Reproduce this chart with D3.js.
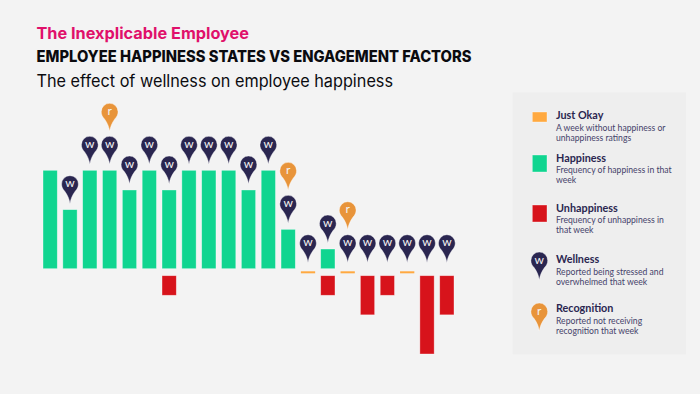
<!DOCTYPE html>
<html>
<head>
<meta charset="utf-8">
<script src="https://cdn.jsdelivr.net/npm/d3@7"></script>
<style>
  html, body { margin: 0; padding: 0; background: #f3f3f3; }
  svg { display: block; }
</style>
</head>
<body>
<script>
//chart data
var weeks = d3.range(1, 22);
var happiness =   [5,3,5,5,4,5,4,5,5,5,4,5,2,0,1,0,0,0,0,0,0];
var unhappiness = [0,0,0,0,0,0,1,0,0,0,0,0,0,0,1,0,2,1,0,4,2];
var wellness =    [0,1,1,1,1,1,1,1,1,1,1,1,1,1,1,1,1,1,1,1,1];
var recognition = [0,0,0,1,0,0,0,0,0,0,0,0,1,0,0,1,0,0,0,0,0];

//title lines
var titleLines = ["The Inexplicable Employee", "EMPLOYEE HAPPINESS STATES VS ENGAGEMENT FACTORS", "The effect of wellness on employee happiness"];

//legend text
var legendNames = ["Just Okay", "Happiness", "Unhappiness", "Wellness", "Recognition"];
var legendNotes = [
    ["A week without happiness or", "unhappiness ratings"],
    ["Frequency of happiness in that", "week"],
    ["Frequency of unhappiness in", "that week"],
    ["Reported being stressed and", "overwhelmed that week"],
    ["Reported not receiving", "recognition that week"]
];

var colors = {green: "#10d590", red: "#d7131b", okay: "#ffa940", navy: "#2a2650", orange: "#e8943a", pink: "#e0106a"};

const svg = d3.select("body")
    .append("svg")
    .attr("width", 700)
    .attr("height", 394);

svg.append("rect").attr("width", 700).attr("height", 394).attr("fill", "#f3f3f3");

//titles, stretched to the measured widths since Poppins isn't installed
var titleStyle = [
    {y: 38.7, size: 16, weight: 700, fill: colors.pink, len: 212.5},
    {y: 61.7, size: 15.5, weight: 800, fill: "#0b0b0f", len: 435},
    {y: 86.7, size: 17, weight: 400, fill: "#0b0b0f", len: 356.5}
];
titleLines.forEach(function(t, i) {
    var s = titleStyle[i];
    svg.append("text")
        .attr("x", 36.5)
        .attr("y", s.y)
        .attr("font-family", "Inter")
        .attr("font-size", s.size)
        .attr("font-weight", s.weight)
        .attr("fill", s.fill)
        .attr("textLength", s.len)
        .attr("lengthAdjust", "spacingAndGlyphs")
        .text(t);
});

//scales
var x = d3.scaleBand().domain(weeks).range([43, 454]).paddingInner(0.28);
var yUp = d3.scaleLinear().domain([0, 5]).range([268.7, 170.3]);
var yDown = d3.scaleLinear().domain([0, 4]).range([275.7, 354]);

//pin, tip at the origin
var pinPath = "M0,0 C-0.8,-5 -2.2,-8 -5.2,-12.4 C-7.4,-14.6 -8.4,-16.8 -8.4,-19.6 A8.4,8.4 0 1 1 8.4,-19.6 C8.4,-16.8 7.4,-14.6 5.2,-12.4 C2.2,-8 0.8,-5 0,0 Z";

function drawPin(g, px, py, letter, fill) {
    var pin = g.append("g").attr("transform", `translate(${px},${py})`);
    pin.append("path")
        .attr("d", pinPath)
        .attr("fill", fill)
        .attr("stroke", "#fff")
        .attr("stroke-opacity", 0.6)
        .attr("stroke-width", 0.7);
    pin.append("text")
        .attr("y", -16.3)
        .attr("text-anchor", "middle")
        .attr("font-family", "Lato")
        .attr("font-size", 12)
        .attr("fill", "#f3f3f3")
        .text(letter);
}

//bars
var rows = weeks.map(function(w, i) {
    return {week: w, up: happiness[i], down: unhappiness[i], well: wellness[i], rec: recognition[i]};
});

var chart = svg.append("g").attr("class", "chart");

chart.selectAll(".up")
    .data(rows.filter(d => d.up > 0))
    .join("rect")
    .attr("class", "up")
    .attr("x", d => x(d.week))
    .attr("y", d => yUp(d.up))
    .attr("width", x.bandwidth())
    .attr("height", d => yUp(0) - yUp(d.up))
    .attr("fill", colors.green)
    .attr("stroke", "#fff")
    .attr("stroke-opacity", 0.5)
    .attr("stroke-width", 0.7);

chart.selectAll(".down")
    .data(rows.filter(d => d.down > 0))
    .join("rect")
    .attr("class", "down")
    .attr("x", d => x(d.week))
    .attr("y", yDown(0))
    .attr("width", x.bandwidth())
    .attr("height", d => yDown(d.down) - yDown(0))
    .attr("fill", colors.red)
    .attr("stroke", "#fff")
    .attr("stroke-opacity", 0.5)
    .attr("stroke-width", 0.7);

//just okay dashes, weeks with neither rating
chart.selectAll(".okay")
    .data(rows.filter(d => d.up === 0 && d.down === 0))
    .join("rect")
    .attr("class", "okay")
    .attr("x", d => x(d.week))
    .attr("y", 271.3)
    .attr("width", x.bandwidth())
    .attr("height", 2)
    .attr("fill", colors.okay);

//pins above each bar
rows.forEach(function(d) {
    var px = x(d.week) + x.bandwidth() / 2;
    var tip = yUp(d.up) - 6;
    if (d.well) {
        drawPin(chart, px, tip, "w", colors.navy);
        tip -= 33;
    }
    if (d.rec) {
        drawPin(chart, px, tip, "r", colors.orange);
    }
});

//legend panel
var legend = svg.append("g").attr("class", "legend");

legend.append("rect")
    .attr("x", 512.7)
    .attr("y", 92.3)
    .attr("width", 173.3)
    .attr("height", 262)
    .attr("fill", "#eeeeee");

var swatches = [
    {y: 112, h: 10, fill: colors.okay},
    {y: 155, h: 17, fill: colors.green},
    {y: 205, h: 17, fill: colors.red}
];
swatches.forEach(function(s) {
    legend.append("rect")
        .attr("x", 532.3)
        .attr("y", s.y)
        .attr("width", 14.7)
        .attr("height", s.h)
        .attr("fill", s.fill)
        .attr("stroke", "#fff")
        .attr("stroke-opacity", 0.5)
        .attr("stroke-width", 0.7);
});

drawPin(legend, 539.3, 280, "w", colors.navy);
drawPin(legend, 539.3, 331, "r", colors.orange);

var headY = [119, 162, 212, 263, 312];
var noteY = [[131, 141], [173, 183], [223, 233], [275, 285], [324, 334]];

legendNames.forEach(function(name, i) {
    legend.append("text")
        .attr("x", 556)
        .attr("y", headY[i])
        .attr("font-family", "Lato")
        .attr("font-weight", 700)
        .attr("font-size", 10.8)
        .attr("fill", colors.navy)
        .text(name);
    legendNotes[i].forEach(function(line, j) {
        legend.append("text")
            .attr("x", 556)
            .attr("y", noteY[i][j])
            .attr("font-family", "Lato")
            .attr("font-size", 8.65)
            .attr("fill", "#45426a")
            .text(line);
    });
});
</script>
</body>
</html>
